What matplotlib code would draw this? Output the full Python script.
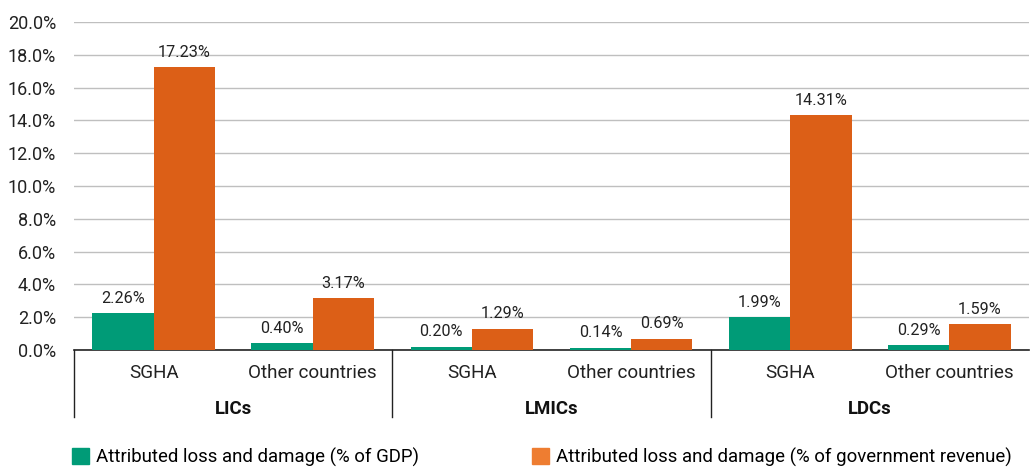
import numpy as np
from matplotlib import pyplot as plt
from matplotlib.patches import Patch

plt.rcParams["font.family"] = ["Roboto", "DejaVu Sans"]

groups = ["LICs", "LMICs", "LDCs"]
subcats = ["SGHA", "Other countries"]
gdp = [2.26, 0.40, 0.20, 0.14, 1.99, 0.29]
revenue = [17.23, 3.17, 1.29, 0.69, 14.31, 1.59]
series_names = [
    "Attributed loss and damage (% of GDP)",
    "Attributed loss and damage (% of government revenue)",
]

GREEN = "#009B77"
ORANGE = "#DC5F17"
ORANGE_LEG = "#EE7D31"

fig = plt.figure(figsize=(10.30, 4.69), dpi=100)
ax = fig.add_axes([74 / 1030, 1 - 350 / 469, 955 / 1030, 328 / 469])

n = len(gdp)
x = np.arange(n)
w = 0.385
ax.bar(x - w / 2, gdp, w, color=GREEN, zorder=3)
ax.bar(x + w / 2, revenue, w, color=ORANGE, zorder=3)

for xi, v in zip(x - w / 2, gdp):
    ax.text(xi, v + 0.45, f"{v:.2f}%", ha="center", va="bottom", fontsize=11.7, color="#222222")
for xi, v in zip(x + w / 2, revenue):
    ax.text(xi, v + 0.45, f"{v:.2f}%", ha="center", va="bottom", fontsize=11.7, color="#222222")

ax.set_xlim(-0.5, n - 0.5)
ax.set_ylim(0, 20)
ax.set_yticks(np.arange(0, 20.1, 2))
ax.set_yticklabels([f"{t:.1f}%" for t in np.arange(0, 20.1, 2)])
ax.yaxis.grid(True, color="#BFBFBF", linewidth=1, zorder=0)
ax.tick_params(axis="y", length=0, labelsize=13, pad=13, colors="#222222")
ax.set_xticks([])
for s in ["top", "right", "left"]:
    ax.spines[s].set_visible(False)
ax.spines["bottom"].set_color("#222222")
ax.spines["bottom"].set_linewidth(1.2)

# two-level category axis
trans = ax.get_xaxis_transform()
for i in range(n):
    ax.text(i, -0.07, subcats[i % 2], transform=trans, ha="center", va="center",
            fontsize=13.6, color="#222222")
for g, name in enumerate(groups):
    ax.text(2 * g + 0.5, -0.18, name, transform=trans, ha="center", va="center",
            fontsize=13.4, fontweight="bold", color="#111111")
for b in [-0.5, 1.5, 3.5]:
    ax.plot([b, b], [0, -0.205], transform=trans, color="#222222", linewidth=1,
            clip_on=False)

handles = [Patch(color=GREEN), Patch(color=ORANGE_LEG)]
fig.legend(handles, series_names, loc="center left", bbox_to_anchor=(72 / 1030, 1 - 457 / 469),
           ncol=2, frameon=False, fontsize=13.4, handlelength=0.9, handleheight=0.9,
           handletextpad=0.38, columnspacing=6.1, borderpad=0, borderaxespad=0)

fig.savefig("out.png", dpi=100)
